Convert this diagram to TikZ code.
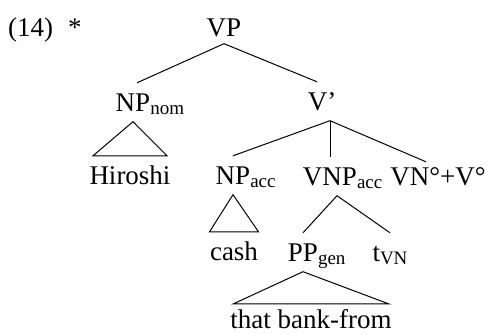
\documentclass[tikz,border=0pt]{standalone}
\usepackage{fontspec}
\setmainfont{Liberation Serif}
\usepackage{tikz}
\usetikzlibrary{positioning}
\newcommand{\lowsub}[1]{\raisebox{-3pt}{\fontsize{19}{19}\selectfont #1}}
\tikzset{
    cat/.style={anchor=base, inner xsep=0pt, inner ysep=4pt, text height=24pt, text depth=6.5pt, font=\fontsize{27}{32}\selectfont},
    branch/.style={line width=1pt},
}

\begin{document}
\begin{tikzpicture}[x=1pt, y=1pt]
    \useasboundingbox (0,0) rectangle (488,333);

    \node [cat, anchor=base west] (ex) at (8,297) {(14)\hspace{15pt}*};

    \node [cat] (VP) at (224,297) {VP};
    \node [cat] (NPnom) at (133,222) {NP\rlap{\lowsub{nom}}};
    \node [cat] (Vbar) at (322,223) {V'};

    \node [cat] (Hiroshi) at (130,149) {Hiroshi};
    \node [cat] (NPacc) at (233,149) {NP\rlap{\lowsub{acc}}};
    \node [cat] (VNP) at (330,148) {VNP\rlap{\lowsub{acc}}};
    \node [cat] (VNV) at (438,148) {VN°+V°};

    \node [cat] (cash) at (234,73) {cash};
    \node [cat] (PPgen) at (303,72) {PP\rlap{\lowsub{gen}}};
    \node [cat] (tVN) at (390,72) {t\lowsub{VN}};

    \node [cat, text depth=0pt, inner ysep=0pt] (bank) at (311,5) {that bank-from};

    \draw [branch] ([xshift=4pt]NPnom.north) -- ([yshift=3pt]VP.south) -- ([xshift=-5pt]Vbar.north);
    \draw [branch] ([xshift=-37pt]Hiroshi.north) -- (NPnom.south) -- ([xshift=37pt]Hiroshi.north) -- cycle;

    \draw [branch] ([xshift=8pt]Vbar.south) -- (NPacc.north);
    \draw [branch] ([xshift=8pt]Vbar.south) -- (VNP.north);
    \draw [branch] ([xshift=8pt]Vbar.south) -- ([xshift=-12pt, yshift=-5pt]VNV.north);

    \draw [branch] ([xshift=-24.5pt]cash.north) -- (NPacc.south) -- ([xshift=24.5pt]cash.north) -- cycle;
    \draw [branch] (PPgen.north) -- ([xshift=7pt]VNP.south) -- (tVN.north);
    \draw [branch] ([xshift=-77.5pt]bank.north) -- (PPgen.south) -- ([xshift=77.5pt]bank.north) -- cycle;
\end{tikzpicture}
\end{document}
